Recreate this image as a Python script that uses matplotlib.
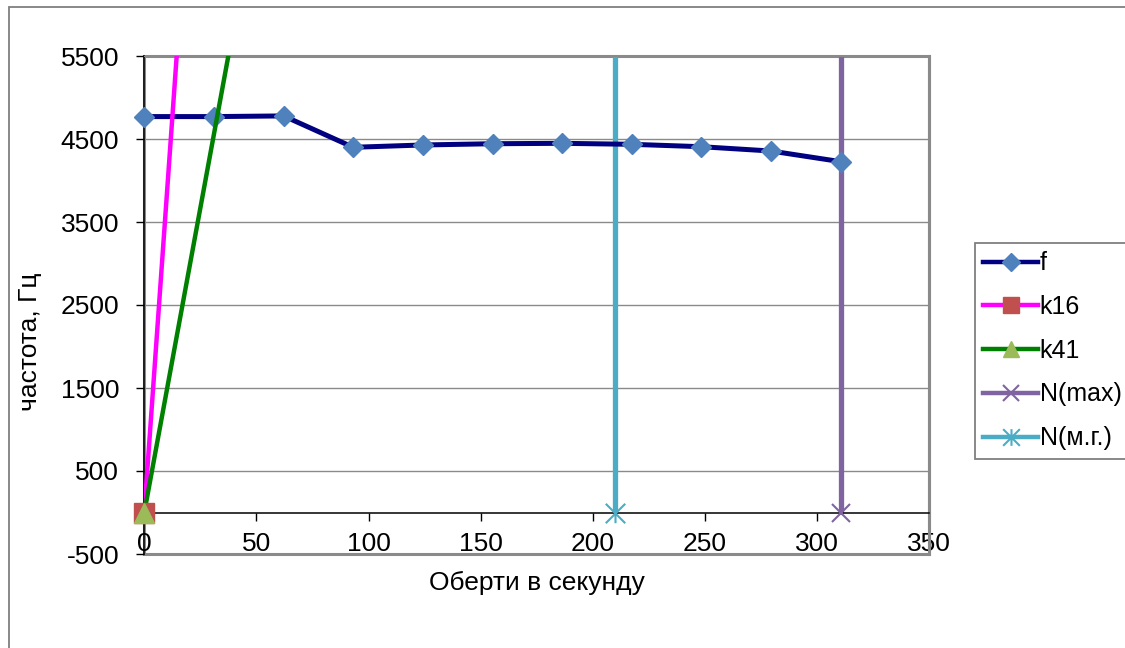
import matplotlib
matplotlib.use("Agg")
import matplotlib.pyplot as plt
from matplotlib.lines import Line2D
from matplotlib.patches import Rectangle
from matplotlib.path import Path

plt.rcParams['font.family'] = ['Liberation Sans', 'DejaVu Sans']
plt.rcParams['axes.unicode_minus'] = False

# Frequency vs. rotation speed
f_x = [0, 31.05, 62.1, 93.15, 124.2, 155.25, 186.3, 217.35, 248.4, 279.45, 310.5]
f_y = [4770, 4770, 4778, 4400, 4428, 4443, 4448, 4436, 4407, 4355, 4227]

# Harmonic lines from the origin
k16_x = [0, 20]
k16_y = [0, 7620]
k41_x = [0, 40]
k41_y = [0, 5872]

# Speed limits (vertical lines)
nmax_x = [310.5, 310.5]
nmax_y = [0, 10000]
nmg_x = [210, 210]
nmg_y = [0, 10000]

x_ticks = [0, 50, 100, 150, 200, 250, 300, 350]
y_ticks = [-500, 500, 1500, 2500, 3500, 4500, 5500]

C_F_LINE, C_F_MK = '#000080', '#4F81BD'
C_K16_LINE, C_K16_MK = '#FF00FF', '#C0504D'
C_K41_LINE, C_K41_MK = '#008000', '#9BBB59'
C_NMAX = '#8064A2'
C_NMG = '#4BACC6'
GRID = '#8a8a8a'
FS = 19

# Excel-style star marker: an X with a vertical stroke
star = Path([(-0.5, -0.5), (0.5, 0.5), (-0.5, 0.5), (0.5, -0.5), (0, -0.5), (0, 0.5)],
            [Path.MOVETO, Path.LINETO, Path.MOVETO, Path.LINETO, Path.MOVETO, Path.LINETO])

W, H = 1125, 648
fig = plt.figure(figsize=(W / 100, H / 100), dpi=100)
fig.patch.set_facecolor('white')

# chart border
fig.patches.append(Rectangle((8.5 / W, -0.05), 1.2, 1 - 7 / H + 0.05,
                             transform=fig.transFigure, fill=False,
                             edgecolor='#7f7f7f', linewidth=1.3))

ax = fig.add_axes([144.3 / W, 1 - 554 / H, (929.3 - 144.3) / W, (554 - 56) / H])
ax.set_xlim(0, 350)
ax.set_ylim(-500, 5500)
ax.patch.set_edgecolor(GRID)
ax.patch.set_linewidth(2.2)

ax.set_yticks(y_ticks)
ax.set_xticks(x_ticks)
ax.yaxis.grid(True, color=GRID, linewidth=1.0)
ax.set_axisbelow(True)

ax.spines['bottom'].set_position(('data', 0))
ax.spines['bottom'].set_color('black')
ax.spines['bottom'].set_linewidth(1.1)
ax.spines['left'].set_color('black')
ax.spines['left'].set_linewidth(1.1)
ax.spines['top'].set_color(GRID)
ax.spines['right'].set_color(GRID)
ax.spines['right'].set_linewidth(2.2)

ax.tick_params(axis='both', direction='out', length=6, width=1, color='black',
               labelsize=FS, labelcolor='black')
ax.tick_params(axis='y', pad=12)
ax.tick_params(axis='x', pad=8)

# series lines
ax.plot(nmg_x, nmg_y, color=C_NMG, linewidth=3.8, zorder=2.5, solid_capstyle='butt')
ax.plot(nmax_x, nmax_y, color=C_NMAX, linewidth=3.8, zorder=2.5, solid_capstyle='butt')
ax.plot(f_x, f_y, color=C_F_LINE, linewidth=3.6, zorder=2.6)
ax.plot(f_x, f_y, linestyle='none', marker='D', markersize=10, color=C_F_MK,
        zorder=2.8, clip_on=False)
ax.plot(k16_x, k16_y, color=C_K16_LINE, linewidth=3.2, zorder=3)
ax.plot(k41_x, k41_y, color=C_K41_LINE, linewidth=3.2, zorder=3.1)
ax.plot(k16_x[:1], k16_y[:1], linestyle='none', marker='s', markersize=14,
        color=C_K16_MK, zorder=3.2, clip_on=False)
ax.plot(k41_x[:1], k41_y[:1], linestyle='none', marker='^', markersize=15,
        color=C_K41_MK, zorder=3.3, clip_on=False)
ax.plot(nmg_x[:1], nmg_y[:1], linestyle='none', marker=star, markersize=14,
        markeredgecolor=C_NMG, markerfacecolor='none', markeredgewidth=1.5, zorder=3.4)
ax.plot(nmax_x[:1], nmax_y[:1], linestyle='none', marker='x', markersize=13,
        markeredgecolor=C_NMAX, markeredgewidth=1.5, zorder=3.4)

ax.set_xlabel('Оберти в секунду', fontsize=FS, labelpad=11)
fig.text(30 / W, 1 - 342 / H, 'частота, Гц', rotation=90, fontsize=FS,
         ha='center', va='center')

handles = [
    Line2D([], [], color=C_F_LINE, lw=3.2, marker='D', ms=9, mfc=C_F_MK, mec=C_F_MK),
    Line2D([], [], color=C_K16_LINE, lw=3.2, marker='s', ms=11, mfc=C_K16_MK, mec=C_K16_MK),
    Line2D([], [], color=C_K41_LINE, lw=3.2, marker='^', ms=12, mfc=C_K41_MK, mec=C_K41_MK),
    Line2D([], [], color=C_NMAX, lw=3.2, marker='x', ms=12, mec=C_NMAX, mew=1.5),
    Line2D([], [], color=C_NMG, lw=3.2, marker=star, ms=12, mec=C_NMG, mfc='none', mew=1.5),
]
labels = ['f', 'k16', 'k41', 'N(max)', 'N(м.г.)']
leg = fig.legend(handles, labels, loc='upper left',
                 bbox_to_anchor=(975 / W, 1 - 243 / H), borderaxespad=0,
                 fontsize=18, frameon=True, fancybox=False, framealpha=1,
                 edgecolor='#7f7f7f', handlelength=2.2, handletextpad=0.05,
                 labelspacing=0.79, borderpad=0.33)
leg.get_frame().set_linewidth(1.3)

fig.savefig('out.png', dpi=100)
